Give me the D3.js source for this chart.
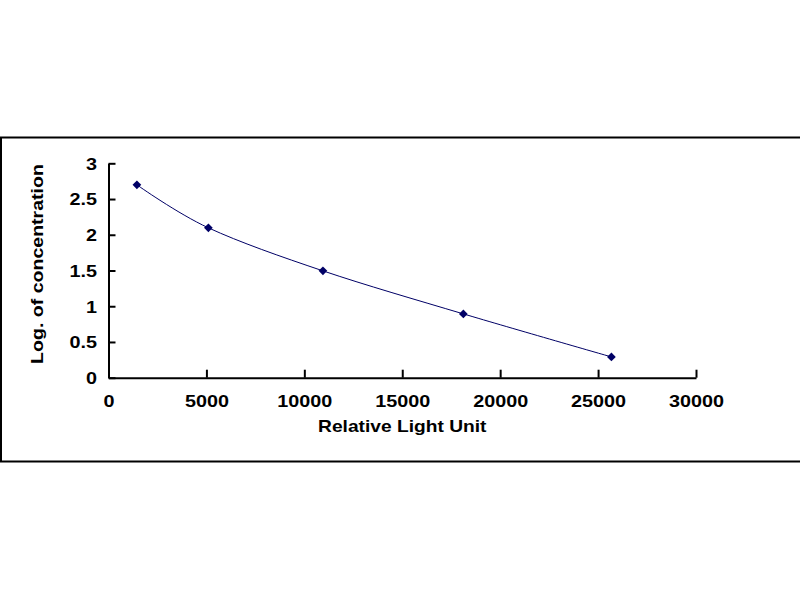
<!DOCTYPE html>
<html>
<head>
<meta charset="utf-8">
<script src="https://cdn.jsdelivr.net/npm/d3@7/dist/d3.min.js"></script>
<style>
  body { margin: 0; background: #fff; }
  text { font-family: "Liberation Sans", Arial, sans-serif; font-weight: bold; fill: #000; }
</style>
</head>
<body>
<script>
// standard curve readings
const rluValues = [1450, 5100, 10950, 18120, 25680];
const logConc = [2.699, 2.097, 1.495, 0.893, 0.291];
const xTicks = [0, 5000, 10000, 15000, 20000, 25000, 30000];
const yTicks = [0, 0.5, 1, 1.5, 2, 2.5, 3];

const width = 800, height = 600;
const stretch = 1.2; // the original text looks stretched sideways

const svg = d3.select("body")
    .append("svg")
    .attr("width", width)
    .attr("height", height);

// outer frame
svg.append("rect")
    .attr("x", 1).attr("y", 137.5)
    .attr("width", 802).attr("height", 324)
    .attr("fill", "none")
    .attr("stroke", "#000")
    .attr("stroke-width", 2);

const x = d3.scaleLinear().domain([0, 30000]).range([108.5, 696]);
const y = d3.scaleLinear().domain([0, 3]).range([377.7, 163.3]);

const xAxis = svg.append("g")
    .attr("transform", `translate(0,${y(0)})`)
    .call(d3.axisBottom(x).tickValues(xTicks).tickSize(-8).tickSizeOuter(0).tickFormat(d3.format("d")));

xAxis.selectAll("text")
    .attr("y", 29).attr("dy", 0)
    .attr("font-size", 16.5)
    .attr("transform", `scale(${stretch},1)`);

const yAxis = svg.append("g")
    .attr("transform", `translate(${x(0)},0)`)
    .call(d3.axisLeft(y).tickValues(yTicks).tickSize(-7).tickSizeOuter(0).tickFormat(d => d));

yAxis.selectAll("text")
    .attr("x", -11.5 / stretch).attr("dy", "0.35em")
    .attr("font-size", 16.5)
    .attr("transform", `scale(${stretch},1)`);

svg.selectAll(".domain, .tick line")
    .attr("stroke", "#000")
    .attr("stroke-width", 2);
svg.selectAll(".tick text").attr("font-family", null);

// axis titles
svg.append("text")
    .attr("transform", `translate(${(x(0) + x(30000)) / 2},432) scale(${stretch},1)`)
    .attr("text-anchor", "middle")
    .attr("font-size", 16)
    .text("Relative Light Unit");

svg.append("text")
    .attr("transform", `translate(43,264) rotate(-90) scale(${stretch},1)`)
    .attr("text-anchor", "middle")
    .attr("font-size", 16.3)
    .text("Log. of concentration");

const points = rluValues.map((v, i) => [v, logConc[i]]);

svg.append("path")
    .datum(points)
    .attr("fill", "none")
    .attr("stroke", "#000066")
    .attr("stroke-width", 1)
    .attr("d", d3.line().x(d => x(d[0])).y(d => y(d[1])).curve(d3.curveCardinal));

svg.selectAll(".pt")
    .data(points)
    .enter()
    .append("path")
    .attr("class", "pt")
    .attr("fill", "#000066")
    .attr("transform", d => `translate(${x(d[0])},${y(d[1])}) rotate(45)`)
    .attr("d", d3.symbol(d3.symbolSquare, 38));
</script>
</body>
</html>
